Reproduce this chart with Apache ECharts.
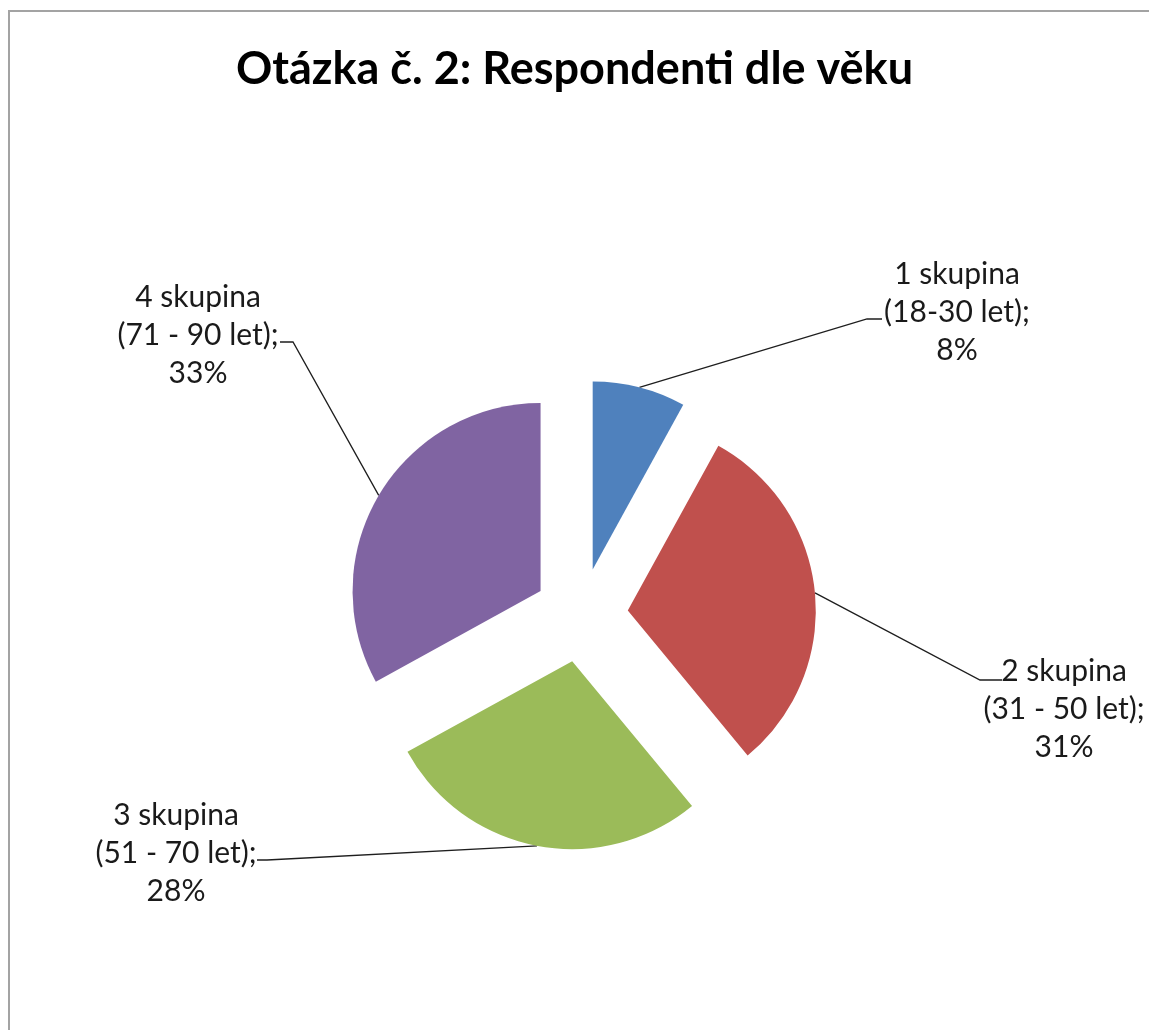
<!doctype html>
<html lang="cs">
<head>
    <meta charset="UTF-8">
    <title>Otázka č. 2: Respondenti dle věku</title>
    <script src="https://cdn.jsdelivr.net/npm/echarts@6/dist/echarts.min.js"></script>
    <style>
        body { margin: 0; background: #fff; }
    </style>
</head>
<body>

<div id="chart" style="width: 1149px;height: 1030px;"></div>
<script type="text/javascript">
    // data
    let groups = ['1 skupina', '2 skupina', '3 skupina', '4 skupina'];
    let ages = ['(18-30 let)', '(31 - 50 let)', '(51 - 70 let)', '(71 - 90 let)'];
    let shares = [8, 31, 28, 33];
    let colors = ['#4F81BD', '#C0504D', '#9BBB59', '#8064A2'];

    // layout of the pie and the labels
    let cx = 581, cy = 615, r = 188, explode = 47;
    let labelPos = [[957, 312], [1064, 709], [176, 853], [198, 335]];
    // end of leader line relative to label centre: dx, dy, length of the short flat tail
    let lineEnd = [[-75, 7, -15], [-62, -29, -22], [81, 7, 10], [82, 7, 13]];

    let total = shares.reduce(function (a, b) { return a + b; }, 0);

    function midAngle(i) {
        let before = 0;
        for (let j = 0; j < i; j++) before += shares[j];
        return (before + shares[i] / 2) / total * Math.PI * 2;
    }

    // excel style exploded pie: one pie per slice, each pushed out along its middle
    let seriesList = [];
    for (let k = 0; k < groups.length; k++) {
        let mid = midAngle(k);
        let data_arr = [];
        for (let i = 0; i < groups.length; i++) {
            data_arr.push({
                name: groups[i],
                value: shares[i],
                itemStyle: {color: i === k ? colors[i] : 'rgba(0,0,0,0)'},
                label: {show: i === k},
                labelLine: {show: i === k}
            });
        }
        seriesList.push({
            type: 'pie',
            silent: true,
            center: [cx + explode * Math.sin(mid), cy - explode * Math.cos(mid)],
            radius: r,
            startAngle: 90,
            clockwise: true,
            avoidLabelOverlap: false,
            itemStyle: {borderWidth: 0},
            label: {
                position: 'outside',
                align: 'center',
                fontFamily: 'Lato',
                fontSize: 30,
                lineHeight: 38,
                color: '#1a1a1a',
                formatter: function (p) {
                    return groups[p.dataIndex] + '\n' + ages[p.dataIndex] + ';\n' + Math.round(p.percent) + '%';
                }
            },
            labelLine: {
                smooth: false,
                lineStyle: {color: '#1e1e1e', width: 1.3}
            },
            labelLayout: function (params) {
                let i = params.dataIndex;
                if (i !== k) return {};
                let x = labelPos[i][0], y = labelPos[i][1];
                let ex = x + lineEnd[i][0], ey = y + lineEnd[i][1];
                return {
                    x: x,
                    y: y,
                    align: 'center',
                    verticalAlign: 'middle',
                    labelLinePoints: [params.labelLinePoints[0], [ex + lineEnd[i][2], ey], [ex, ey]]
                };
            },
            data: data_arr
        });
    }

    let myChart = echarts.init(document.getElementById('chart'));
    myChart.setOption({
        animation: false,
        backgroundColor: '#fff',
        title: {
            text: 'Otázka č. 2: Respondenti dle věku',
            left: 'center',
            top: 42,
            textStyle: {
                fontFamily: 'Lato',
                fontWeight: 'bold',
                fontSize: 45,
                color: '#000'
            }
        },
        graphic: [{
            type: 'rect',
            silent: true,
            shape: {x: 9, y: 11, width: 1160, height: 1040},
            style: {fill: 'none', stroke: '#a3a3a3', lineWidth: 2}
        }],
        series: seriesList
    });
</script>
</body>
</html>
